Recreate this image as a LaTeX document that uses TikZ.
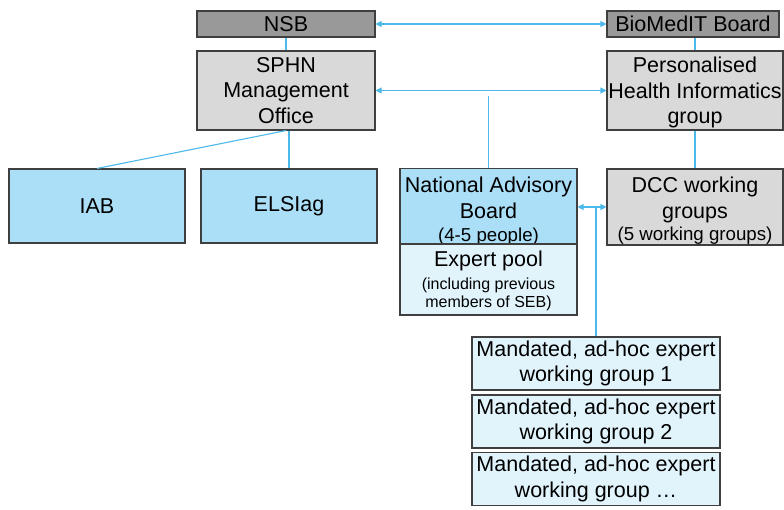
\documentclass[tikz,border=0pt]{standalone}
\usepackage{fontspec}
\setmainfont{Liberation Sans}
\usetikzlibrary{arrows.meta}
\definecolor{boarddark}{HTML}{999999}
\definecolor{officegray}{HTML}{D9D9D9}
\definecolor{groupblue}{HTML}{ABDFF7}
\definecolor{poolblue}{HTML}{E1F4FC}
\definecolor{linkblue}{HTML}{4DB8EA}
\definecolor{edgegray}{HTML}{3F3F3F}

\begin{document}
\begin{tikzpicture}[x=1pt,y=-1pt,
  every node/.style={draw=edgegray,line width=1.1pt,align=center,inner sep=0pt,
    font=\fontsize{21.5}{25.5}\selectfont},
  darkbox/.style={fill=boarddark},
  graybox/.style={fill=officegray},
  bluebox/.style={fill=groupblue},
  poolbox/.style={fill=poolblue},
  link/.style={draw=linkblue,line width=1.1pt},
  twoway/.style={link,{Triangle[length=6pt,width=6pt]}-{Triangle[length=6pt,width=6pt]}}]
\useasboundingbox (0,0) rectangle (784,509);
% top row
\node [darkbox,minimum width=178pt,minimum height=26pt] (nsb) at (286,24) {NSB};
\node [darkbox,minimum width=172pt,minimum height=26pt] (biomedit) at (693,24) {BioMedIT Board};
\node [graybox,minimum width=178pt,minimum height=79pt] (sphn) at (286,90.5) {SPHN\\Management\\Office};
\node [graybox,minimum width=176pt,minimum height=79pt] (phi) at (695,90.5) {\rule{0pt}{20pt}Personalised\\Health Informatics\\group};
% second row
\node [bluebox,minimum width=176pt,minimum height=74pt] (iab) at (97,206) {IAB};
\node [bluebox,minimum width=176pt,minimum height=74pt] (elsi) at (289,206) {ELSIag};
\node [bluebox,minimum width=177pt,minimum height=74pt] (nab) at (488.5,207)
  {\rule{0pt}{24pt}National Advisory\\Board\\[-2pt]\fontsize{18.7}{21}\selectfont (4-5 people)};
\node [poolbox,minimum width=177pt,minimum height=71pt] (pool) at (488.5,279.5)
  {\rule{0pt}{19pt}Expert pool\\[-3pt]\fontsize{16}{18}\selectfont (including previous\\[-7pt]\fontsize{16}{18}\selectfont members of SEB)};
\node [graybox,minimum width=176pt,minimum height=76pt] (dcc) at (695,207)
  {\rule{0pt}{23pt}DCC working\\groups\\[-3pt]\fontsize{18.7}{21}\selectfont (5 working groups)};
% working groups
\node [poolbox,minimum width=248pt,minimum height=53pt] (wg1) at (596,363.5) {Mandated, ad-hoc expert\\working group 1};
\node [poolbox,minimum width=248pt,minimum height=53pt] (wg2) at (596,421.5) {Mandated, ad-hoc expert\\working group 2};
\node [poolbox,minimum width=248pt,minimum height=53pt] (wg3) at (596,479) {Mandated, ad-hoc expert\\working group \dots};
% connectors
\draw [twoway] (nsb.east) -- (biomedit.west);
\draw [twoway] (sphn.east) -- (phi.west);
\draw [link] (nsb.south) -- (sphn.north);
\draw [link] (biomedit.south -| phi.north) -- (phi.north);
\draw [link] (sphn.south) -- (iab.north);
\draw [link] (elsi.north |- sphn.south) -- (elsi.north);
\draw [link] (phi.south) -- (dcc.north);
\coordinate (nabtop) at ([yshift=-5pt]nab.north |- sphn.east);
\draw [link] (nabtop) -- (nab.north);
\draw [twoway] (nab.east) -- (dcc.west);
\coordinate (wgtop) at (wg1.north |- nab.east);
\draw [link] (wgtop) -- (wg1.north);
\end{tikzpicture}
\end{document}
